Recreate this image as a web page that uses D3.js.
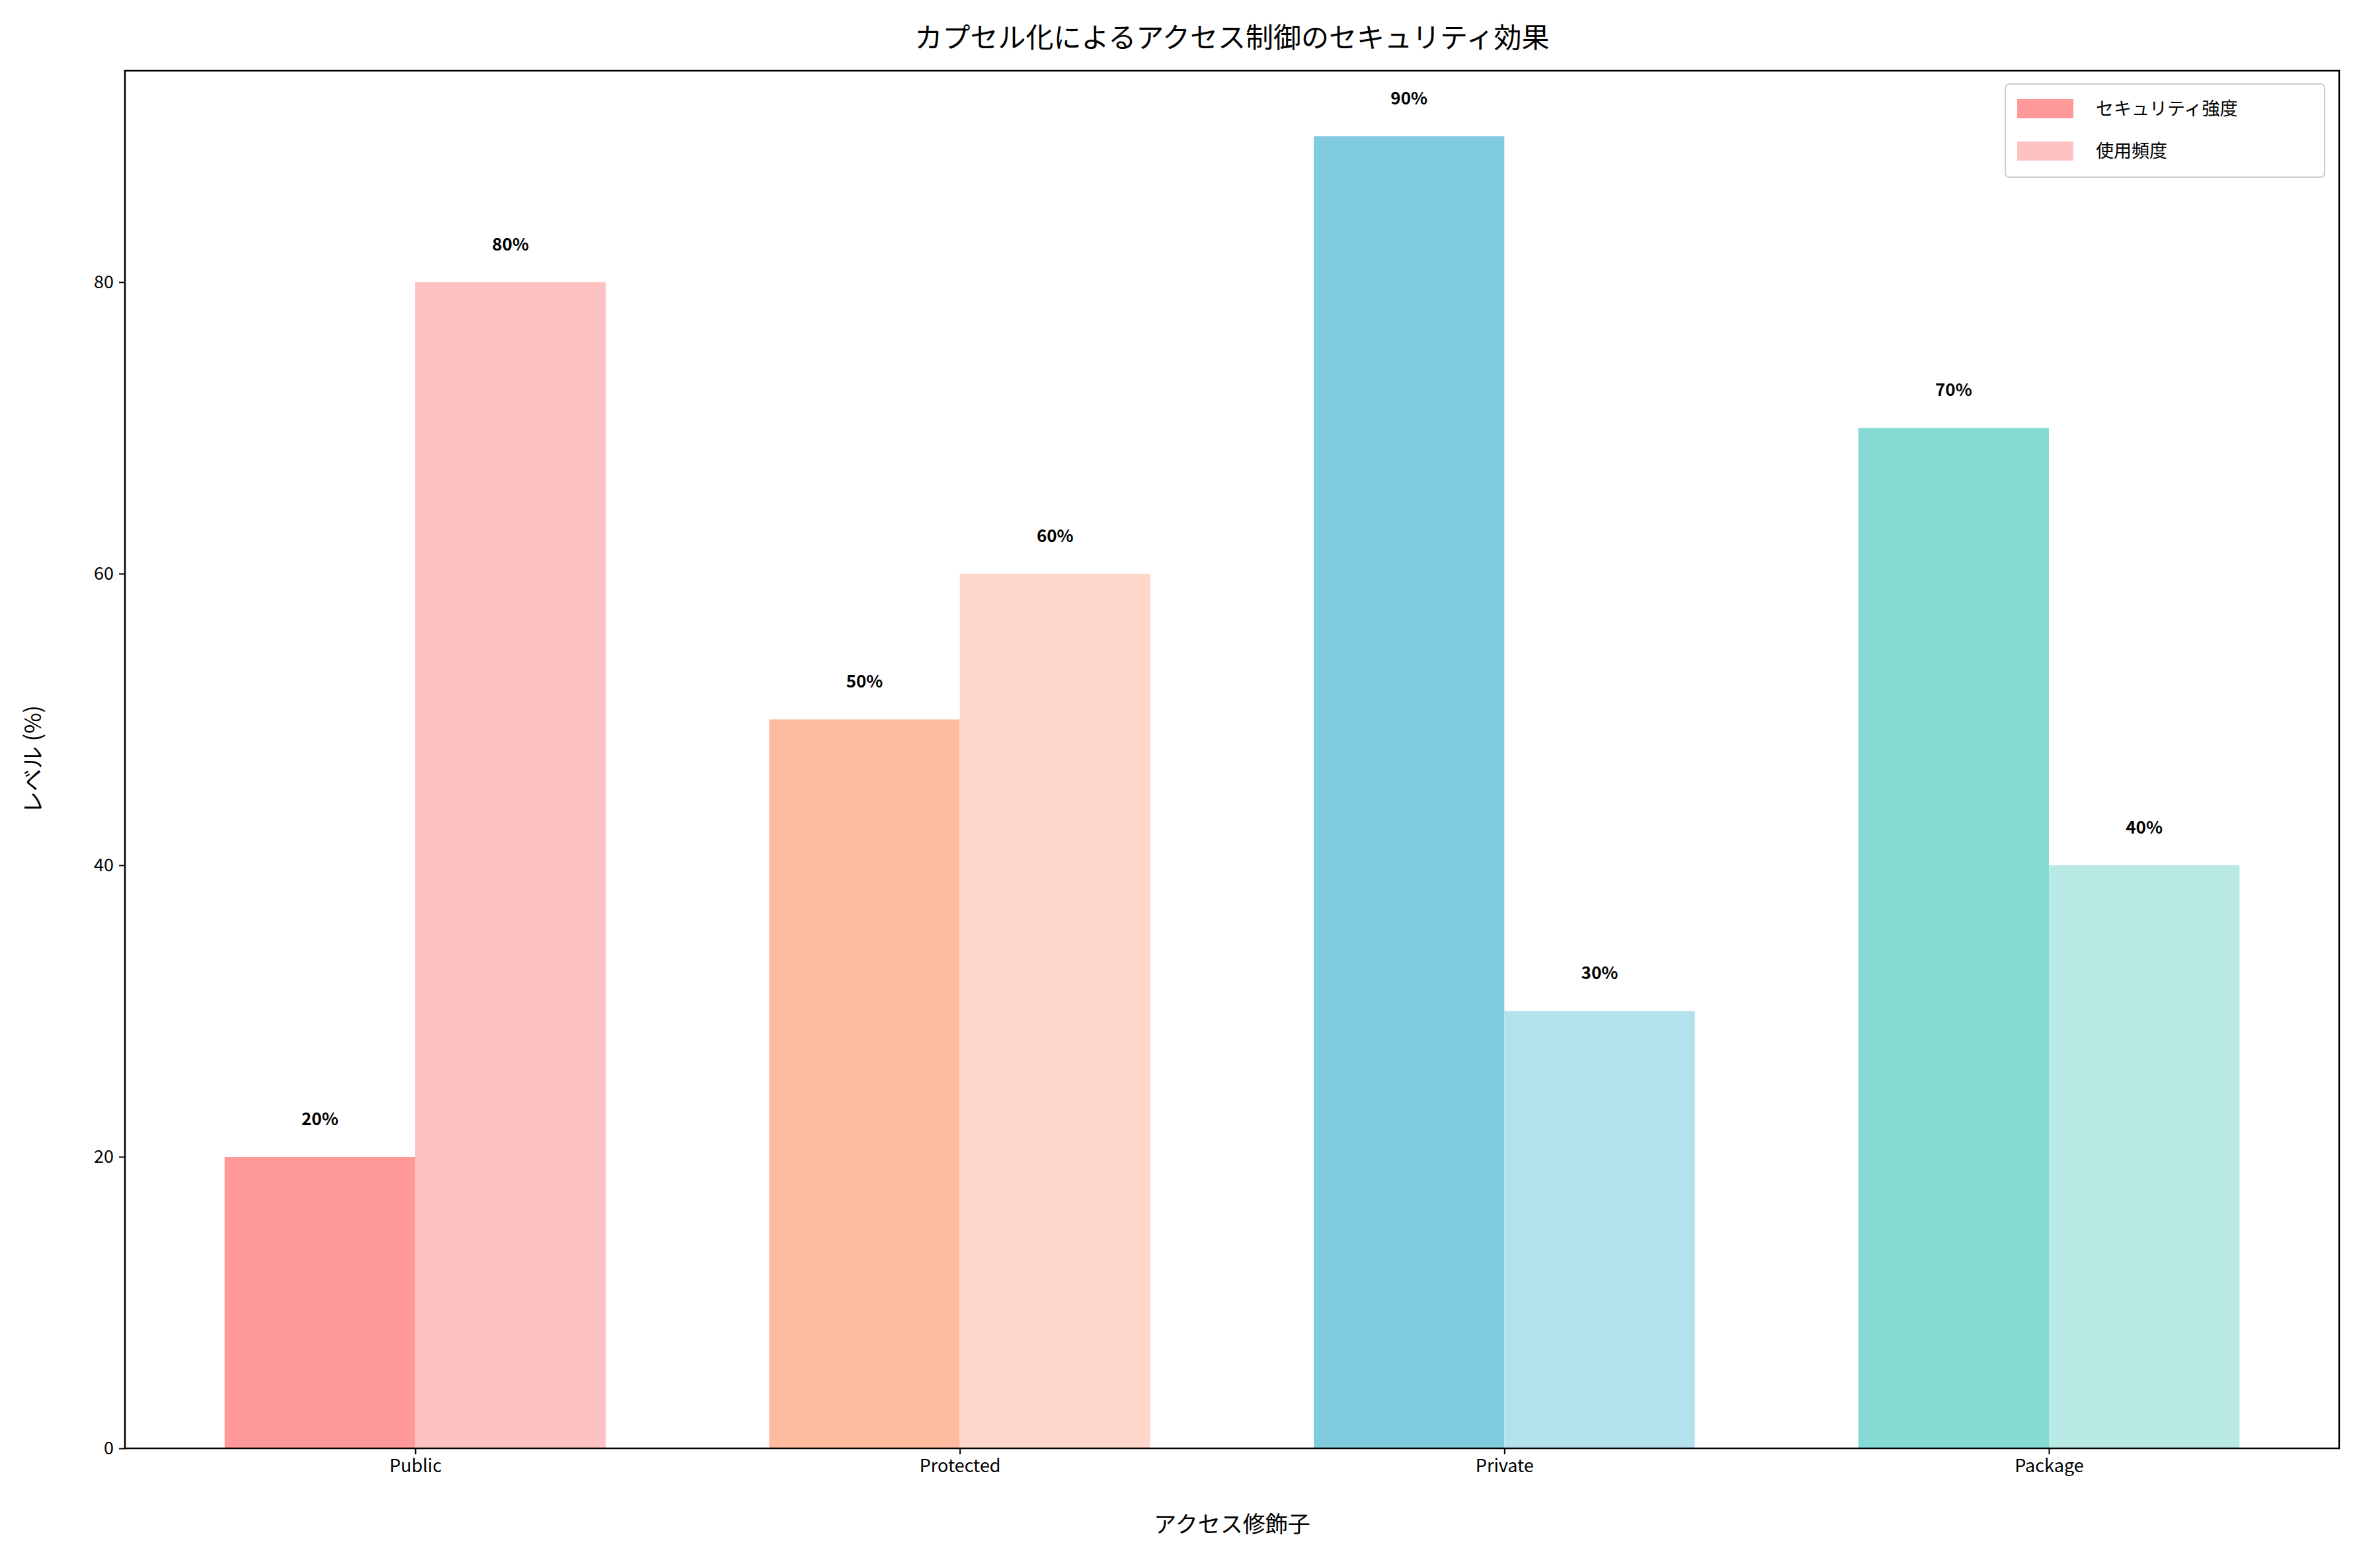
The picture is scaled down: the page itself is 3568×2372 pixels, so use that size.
<!DOCTYPE html>
<html><head><meta charset="utf-8">
<script src="https://cdn.jsdelivr.net/npm/d3@7"></script>
<style>body{margin:0;background:#fff}text{font-family:"Noto Sans CJK JP","DejaVu Sans",sans-serif}</style>
</head><body><div id="chart"></div>
<script>
const categories = ["Public", "Protected", "Private", "Package"];
const security = [20, 50, 90, 70];
const usage = [80, 60, 30, 40];
const secColors = ["#FF9999", "#FFBBA0", "#80CBDD", "#85DBD4"];
const useColors = ["#FFC2C2", "#FFD8CB", "#B4E2EC", "#B8E9E5"];
const yTicks = [0, 20, 40, 60, 80];
const seriesNames = ["セキュリティ強度", "使用頻度"];

const W = 3568, H = 2372, m = {l: 189, r: 30, t: 107, b: 181};
const svg = d3.select("#chart").append("svg").attr("width", W).attr("height", H);
const x = d3.scaleLinear().domain([-0.533, 3.533]).range([m.l, W - m.r]);
const y = d3.scaleLinear().domain([0, 94.5]).range([H - m.b, m.t]);
const bw = 0.35;

const g = svg.append("g");
categories.forEach((c, i) => {
  [[security, secColors, -bw], [usage, useColors, 0]].forEach(([vals, cols, off]) => {
    const v = vals[i];
    g.append("rect").attr("x", x(i + off)).attr("width", x(i + off + bw) - x(i + off))
      .attr("y", y(v)).attr("height", y(0) - y(v)).attr("fill", cols[i]);
    g.append("text").attr("x", x(i + off + bw / 2)).attr("y", y(v) - 48)
      .attr("text-anchor", "middle").attr("font-size", 26).attr("font-weight", "bold").text(v + "%");
  });
});

const xa = svg.append("g").attr("transform", `translate(0,${H - m.b})`)
  .call(d3.axisBottom(x).tickValues(d3.range(categories.length)).tickFormat(i => categories[i]).tickSize(9).tickPadding(8));
const ya = svg.append("g").attr("transform", `translate(${m.l},0)`)
  .call(d3.axisLeft(y).tickValues(yTicks).tickSize(9).tickPadding(8));
[xa, ya].forEach(a => { a.selectAll("text").attr("font-size", 27).attr("fill", "#000"); a.select(".domain").remove(); a.selectAll("line").attr("stroke-width", 2); });
svg.append("rect").attr("x", m.l).attr("y", m.t).attr("width", W - m.r - m.l).attr("height", H - m.b - m.t)
  .attr("fill", "none").attr("stroke", "#000").attr("stroke-width", 2.5);

svg.append("text").attr("x", (m.l + W - m.r) / 2).attr("y", 72).attr("text-anchor", "middle")
  .attr("font-size", 42).text("カプセル化によるアクセス制御のセキュリティ効果");
svg.append("text").attr("x", (m.l + W - m.r) / 2).attr("y", 2318).attr("text-anchor", "middle")
  .attr("font-size", 34).text("アクセス修飾子");
svg.append("text").attr("transform", `translate(62,${(m.t + H - m.b) / 2}) rotate(-90)`).attr("text-anchor", "middle")
  .attr("font-size", 34).text("レベル (%)");

const lg = svg.append("g");
lg.append("rect").attr("x", 3033).attr("y", 127).attr("width", 483).attr("height", 141).attr("rx", 6)
  .attr("fill", "#fff").attr("fill-opacity", 0.8).attr("stroke", "#ccc").attr("stroke-width", 2);
seriesNames.forEach((n, k) => {
  const yy = 164 + k * 64;
  lg.append("rect").attr("x", 3051).attr("y", yy - 14).attr("width", 85).attr("height", 29)
    .attr("fill", k ? useColors[0] : secColors[0]);
  lg.append("text").attr("x", 3170).attr("y", yy + 10).attr("font-size", 27).text(n);
});
</script></body></html>
